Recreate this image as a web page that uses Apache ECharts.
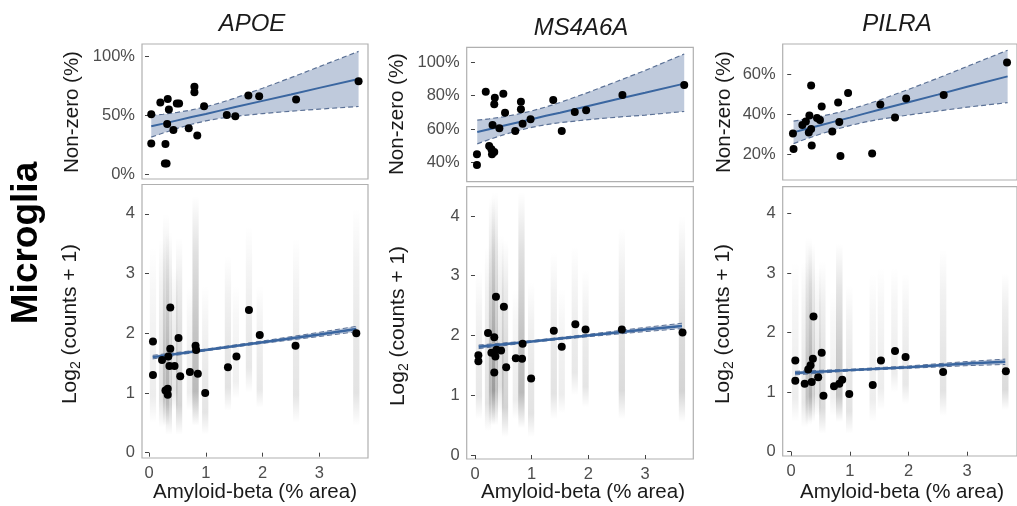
<!DOCTYPE html>
<html><head><meta charset="utf-8">
<script src="https://cdn.jsdelivr.net/npm/echarts@6.0.0/dist/echarts.min.js"></script>
<style>html,body{margin:0;padding:0;background:#fff}#c{width:1017px;height:506px}</style>
</head><body><div id="c"></div>
<script>
// ---------- DATA ----------
var genes = ['APOE', 'MS4A6A', 'PILRA'];

// Top panels: donor-level % non-zero
var apoeTopX = [0.04,0.04,0.2,0.33,0.35,0.29,0.28,0.31,0.32,0.43,0.49,0.53,0.7,0.8,0.8,0.85,0.97,1.37,1.52,1.75,1.94,2.59,3.69];
var apoeTopY = [51,26,61,64,55,25.6,9,9,42.6,37.5,60,60,39,74.4,69.6,32.7,57.7,50.3,49.2,66.8,66.2,63.4,79];
var ms4TopX = [0.035,0.035,0.19,0.35,0.34,0.5,0.53,0.31,0.43,0.25,0.29,0.34,0.30,0.71,0.81,0.81,0.84,0.98,1.38,1.53,1.76,1.96,2.6,3.69];
var ms4TopY = [44.8,38.4,82.4,78.8,74.8,81.2,69.8,62.4,60.4,49.8,47.8,46.2,44.8,58.8,76.4,71.8,63.2,65.8,77.4,58.8,70.2,71.2,80.4,86.4];
var pilTopX = [0.03,0.04,0.19,0.25,0.31,0.34,0.30,0.34,0.35,0.44,0.49,0.52,0.7,0.8,0.82,0.84,0.97,1.38,1.52,1.77,1.96,2.6,3.68];
var pilTopY = [30.3,22.5,34.5,36.3,39.2,54.3,30.8,32.5,24.2,38,37,43.7,31.3,45.7,36,19,50.5,20.3,44.8,38.3,47.8,49.5,65.8];

// Top panels: fitted line and confidence band
var bandX = [0.04,0.25,0.5,0.75,1,1.25,1.5,2,2.5,3,3.69];
var apoeFit = [40.6,42.9,45.7,48.5,51.2,54.0,56.8,62.3,67.8,73.4,81.0];
var apoeUp  = [49.8,50.9,52.5,54.6,57.3,60.6,64.5,73.1,82.1,91.5,104.5];
var apoeLo  = [31.4,34.9,38.9,42.4,45.2,47.4,49.1,51.5,53.5,55.3,57.5];
var ms4Fit = [58.2,59.9,61.9,63.9,65.9,67.9,69.8,73.8,77.8,81.7,87.2];
var ms4Up  = [65.3,66.1,67.3,68.9,70.8,73.2,75.9,82.0,88.5,95.1,105.0];
var ms4Lo  = [51.1,53.7,56.5,58.9,61.0,62.6,63.8,65.6,67.1,68.3,70.5];
var pilFit = [30.8,32.5,34.4,36.3,38.2,40.2,42.1,45.9,49.7,53.6,58.8];
var pilUp  = [36.4,37.5,38.8,40.4,42.3,44.5,46.9,52.3,57.9,63.8,71.9];
var pilLo  = [25.2,27.5,30.0,32.2,34.2,35.9,37.3,39.5,41.5,43.4,45.7];

// Bottom panels: donor-level mean log2(counts+1)
var apoeBotX = [0.07,0.07,0.23,0.29,0.33,0.33,0.34,0.375,0.375,0.36,0.45,0.52,0.55,0.72,0.82,0.83,0.86,0.99,1.39,1.54,1.76,1.95,2.58,3.65];
var apoeBotY = [1.86,1.30,1.55,1.04,1.07,0.97,1.61,2.43,1.74,1.45,1.45,1.92,1.28,1.35,1.79,1.72,1.32,1.00,1.43,1.61,2.39,1.97,1.79,2.00];
var ms4BotX = [0.06,0.06,0.23,0.29,0.34,0.34,0.36,0.37,0.38,0.46,0.51,0.55,0.72,0.83,0.84,0.99,1.39,1.53,1.77,1.95,2.59,3.66];
var ms4BotY = [1.67,1.57,2.04,1.71,1.97,1.38,1.65,2.65,1.76,1.75,2.48,1.47,1.62,1.61,1.86,1.28,2.08,1.81,2.19,2.10,2.10,2.05];
var pilBotX = [0.07,0.07,0.23,0.29,0.33,0.35,0.37,0.38,0.46,0.52,0.55,0.73,0.82,0.87,0.99,1.39,1.53,1.77,1.95,2.59,3.66];
var pilBotY = [1.53,1.19,1.14,1.38,1.45,1.17,1.56,2.27,1.25,1.66,0.94,1.10,1.14,1.21,0.97,1.12,1.53,1.69,1.59,1.34,1.35];

// Bottom panels: fitted line and narrow band
var botBandX = [0.065,1,2,3,3.65];
var apoeBotFit = [1.60,1.72,1.85,1.98,2.07];
var apoeBotUp  = [1.63,1.735,1.87,2.015,2.115];
var apoeBotLo  = [1.57,1.705,1.83,1.945,2.025];
var ms4BotFit = [1.81,1.90,2.00,2.10,2.16];
var ms4BotUp  = [1.84,1.915,2.02,2.135,2.205];
var ms4BotLo  = [1.78,1.885,1.98,2.065,2.115];
var pilBotFit = [1.32,1.37,1.42,1.48,1.51];
var pilBotUp  = [1.35,1.385,1.44,1.515,1.555];
var pilBotLo  = [1.29,1.355,1.40,1.445,1.465];

// Bottom panels: cell-level clouds, one stripe per donor (x, low y, high y, density)
var stripeX = [0.07,0.23,0.30,0.35,0.45,0.53,0.72,0.82,0.99,1.39,1.53,1.76,1.95,2.59,3.65];
var apoeStripeLo = [0.5,0.42,0.45,0.3,0.7,0.3,0.7,0.45,0.3,0.7,0.9,1.0,0.75,0.5,0.45];
var apoeStripeHi = [3.45,3.58,4.0,3.7,3.1,3.6,2.8,4.3,2.8,3.3,2.8,3.8,2.8,3.6,4.1];
var apoeStripeA  = [0.07,0.11,0.17,0.17,0.1,0.17,0.07,0.27,0.1,0.11,0.06,0.09,0.09,0.1,0.11];
var ms4StripeLo = [0.6,0.4,0.5,0.5,0.7,0.3,0.6,0.45,0.3,0.6,0.7,1.0,0.8,0.6,0.55];
var ms4StripeHi = [3.1,3.5,4.3,4.4,3.7,3.6,2.8,4.4,2.9,3.4,2.8,3.5,3.1,3.8,4.0];
var ms4StripeA  = [0.09,0.11,0.2,0.23,0.11,0.17,0.07,0.27,0.11,0.11,0.07,0.09,0.1,0.14,0.17];
var pilStripeLo = [0.5,0.4,0.45,0.5,0.6,0.3,0.6,0.5,0.3,0.5,0.7,1.0,0.8,0.6,0.7];
var pilStripeHi = [3.2,3.2,3.6,3.5,3.1,3.2,2.7,3.5,2.8,3.0,3.1,3.1,3.0,3.4,3.0];
var pilStripeA  = [0.07,0.09,0.17,0.17,0.09,0.14,0.06,0.23,0.11,0.07,0.07,0.07,0.09,0.11,0.14];

var topTicks = [[0,50,100],[40,60,80,100],[20,40,60]];
var botTicks = [0,1,2,3,4];
var xTicks = [0,1,2,3];

// ---------- LAYOUT / STYLE ----------
var FONT = '"Liberation Sans", Arial, Helvetica, sans-serif';
var LINE = '#3a66a0', FILL = '#bfcadc', EDGE = '#5b7196', BORDER = '#b0b0b0';
var grids = [
  {left:142, top:44, width:226, height:135},
  {left:142, top:184.5, width:226, height:273.5},
  {left:466.7, top:47.3, width:226.6, height:134.4},
  {left:466.7, top:186.7, width:226.6, height:272.3},
  {left:782.7, top:44, width:237, height:136},
  {left:782.7, top:186.7, width:237, height:269.3}
];
var xRanges = [[-0.123,3.856],[-0.123,3.856],[-0.146,3.85],[-0.146,3.85],[-0.145,3.85],[-0.145,3.85]];
var yRanges = [[-4.3,110.8],[-0.089,4.49],[28.4,109],[-0.067,4.49],[7,75],[-0.072,4.45]];

var pairs = function(xs, ys){ return xs.map(function(x,i){ return [x, ys[i]]; }); };

var xAxes = [], yAxes = [];
grids.forEach(function(g, i){
  g.show = true; g.borderColor = BORDER; g.borderWidth = 1.2; g.backgroundColor = '#fff';
  var isTop = (i % 2 === 0);
  xAxes.push({
    type:'value', gridIndex:i, min:xRanges[i][0], max:xRanges[i][1], show: !isTop,
    axisLine:{show:false}, splitLine:{show:false},
    axisTick:{show:true, inside:false, length:4, lineStyle:{color:'#444'}, customValues:xTicks},
    axisLabel:{show:true, customValues:xTicks, margin:7, color:'#4d4d4d', fontSize:16.5, fontFamily:FONT}
  });
  var ticks = isTop ? topTicks[Math.floor(i/2)] : botTicks;
  yAxes.push({
    type:'value', gridIndex:i, min:yRanges[i][0], max:yRanges[i][1],
    axisLine:{show:false}, splitLine:{show:false},
    axisTick:{show:true, inside:false, length:4, lineStyle:{color:'#444'}, customValues:ticks},
    axisLabel:{show:true, customValues:ticks, margin:7, color:'#4d4d4d', fontSize:16.5, fontFamily:FONT,
      formatter: isTop ? function(v){ return v + '%'; } : function(v){ return String(v); }}
  });
});

function bandSeries(idx, xs, up, lo){
  return {type:'custom', xAxisIndex:idx, yAxisIndex:idx, silent:true, clip:true, z:2,
    data:[[xs[0], up[0]]],
    renderItem:function(params, api){
      var pts = [];
      for (var k=0;k<xs.length;k++) pts.push(api.coord([xs[k], up[k]]));
      for (var k=xs.length-1;k>=0;k--) pts.push(api.coord([xs[k], lo[k]]));
      return {type:'polygon', shape:{points:pts, smooth:0}, style:{fill:FILL}};
    }};
}
function lineSeries(idx, xs, ys, dashed, w, z){
  return {type:'line', xAxisIndex:idx, yAxisIndex:idx, data:pairs(xs, ys), showSymbol:false, symbol:'none',
    silent:true, z:z, clip:true, animation:false,
    lineStyle:{color: dashed ? EDGE : LINE, width:w, type: dashed ? [5,3] : 'solid'}};
}
function pointSeries(idx, xs, ys){
  return {type:'scatter', xAxisIndex:idx, yAxisIndex:idx, data:pairs(xs, ys), symbolSize:8, z:6,
    itemStyle:{color:'#000', opacity:1}, silent:true};
}
function stripeSeries(idx, lo, hi, al){
  var d = stripeX.map(function(x,k){ return [x, lo[k], hi[k], al[k]]; });
  return {type:'custom', xAxisIndex:idx, yAxisIndex:idx, silent:true, clip:true, z:1, data:d,
    renderItem:function(params, api){
      var x = api.value(0), l = api.value(1), h = api.value(2), a = api.value(3);
      var p1 = api.coord([x - 0.055, h]), p2 = api.coord([x + 0.055, l]);
      return {type:'rect', shape:{x:p1[0], y:p1[1], width:p2[0]-p1[0], height:p2[1]-p1[1]},
        style:{fill: new echarts.graphic.LinearGradient(0,0,0,1,[
          {offset:0, color:'rgba(0,0,0,0)'},
          {offset:0.25, color:'rgba(0,0,0,'+(a*0.45)+')'},
          {offset:0.6, color:'rgba(0,0,0,'+(a*0.85)+')'},
          {offset:0.85, color:'rgba(0,0,0,'+a+')'},
          {offset:1, color:'rgba(0,0,0,0)'}])}};
    }};
}

var series = [];
var topSets = [[apoeTopX,apoeTopY,apoeFit,apoeUp,apoeLo],[ms4TopX,ms4TopY,ms4Fit,ms4Up,ms4Lo],[pilTopX,pilTopY,pilFit,pilUp,pilLo]];
var botSets = [[apoeBotX,apoeBotY,apoeBotFit,apoeBotUp,apoeBotLo,apoeStripeLo,apoeStripeHi,apoeStripeA],
               [ms4BotX,ms4BotY,ms4BotFit,ms4BotUp,ms4BotLo,ms4StripeLo,ms4StripeHi,ms4StripeA],
               [pilBotX,pilBotY,pilBotFit,pilBotUp,pilBotLo,pilStripeLo,pilStripeHi,pilStripeA]];
for (var g=0; g<3; g++){
  var t = topSets[g], ti = g*2;
  series.push(bandSeries(ti, bandX, t[3], t[4]));
  series.push(lineSeries(ti, bandX, t[3], true, 1.2, 3));
  series.push(lineSeries(ti, bandX, t[4], true, 1.2, 3));
  series.push(lineSeries(ti, bandX, t[2], false, 2, 4));
  series.push(pointSeries(ti, t[0], t[1]));
  var b = botSets[g], bi = g*2+1;
  series.push(stripeSeries(bi, b[5], b[6], b[7]));
  series.push(bandSeries(bi, botBandX, b[3], b[4]));
  series.push(lineSeries(bi, botBandX, b[3], true, 1, 3));
  series.push(lineSeries(bi, botBandX, b[4], true, 1, 3));
  series.push(lineSeries(bi, botBandX, b[2], false, 2.5, 4));
  series.push(pointSeries(bi, b[0], b[1]));
}

function txt(x, y, text, size, opts){
  opts = opts || {};
  return {type:'text', x:x, y:y, rotation: opts.rot || 0, z:10, silent:true,
    style:{text:text, fontSize:size, fontFamily:FONT, fontStyle:opts.italic?'italic':'normal',
      fontWeight:opts.bold?'bold':'normal', fill:opts.color||'#1a1a1a',
      align:'center', verticalAlign:'middle', textAlign:'center', textVerticalAlign:'middle'}};
}
function logLabel(x, y){
  return {type:'text', x:x, y:y, rotation:Math.PI/2, z:10, silent:true,
    style:{text:'{a|Log}{s|2}{a| (counts + 1)}', fill:'#1a1a1a', align:'center', verticalAlign:'middle',
      textAlign:'center', textVerticalAlign:'middle', fontFamily:FONT,
      rich:{a:{fontSize:21, lineHeight:26, fontFamily:FONT, fill:'#1a1a1a'},
            s:{fontSize:14, lineHeight:14, verticalAlign:'bottom', fontFamily:FONT, fill:'#1a1a1a'}}}};
}

var graphic = [
  txt(252, 24, genes[0], 24, {italic:true}),
  txt(581, 28, genes[1], 24, {italic:true}),
  txt(897, 24, genes[2], 24, {italic:true}),
  txt(72, 112, 'Non-zero (%)', 20.5, {rot:Math.PI/2}),
  txt(397, 114, 'Non-zero (%)', 20.5, {rot:Math.PI/2}),
  txt(724, 112, 'Non-zero (%)', 20.5, {rot:Math.PI/2}),
  logLabel(70, 324), logLabel(398, 326), logLabel(723, 324),
  txt(255, 492, 'Amyloid-beta (% area)', 20.5),
  txt(583, 492, 'Amyloid-beta (% area)', 20.5),
  txt(902, 492, 'Amyloid-beta (% area)', 20.5),
  txt(27, 243, 'Microglia', 37, {rot:Math.PI/2, bold:true, color:'#000'})
];

var chart = echarts.init(document.getElementById('c'), null, {renderer:'canvas'});
chart.setOption({animation:false, backgroundColor:'#fff', grid:grids, xAxis:xAxes, yAxis:yAxes, series:series, graphic:graphic});
</script></body></html>
